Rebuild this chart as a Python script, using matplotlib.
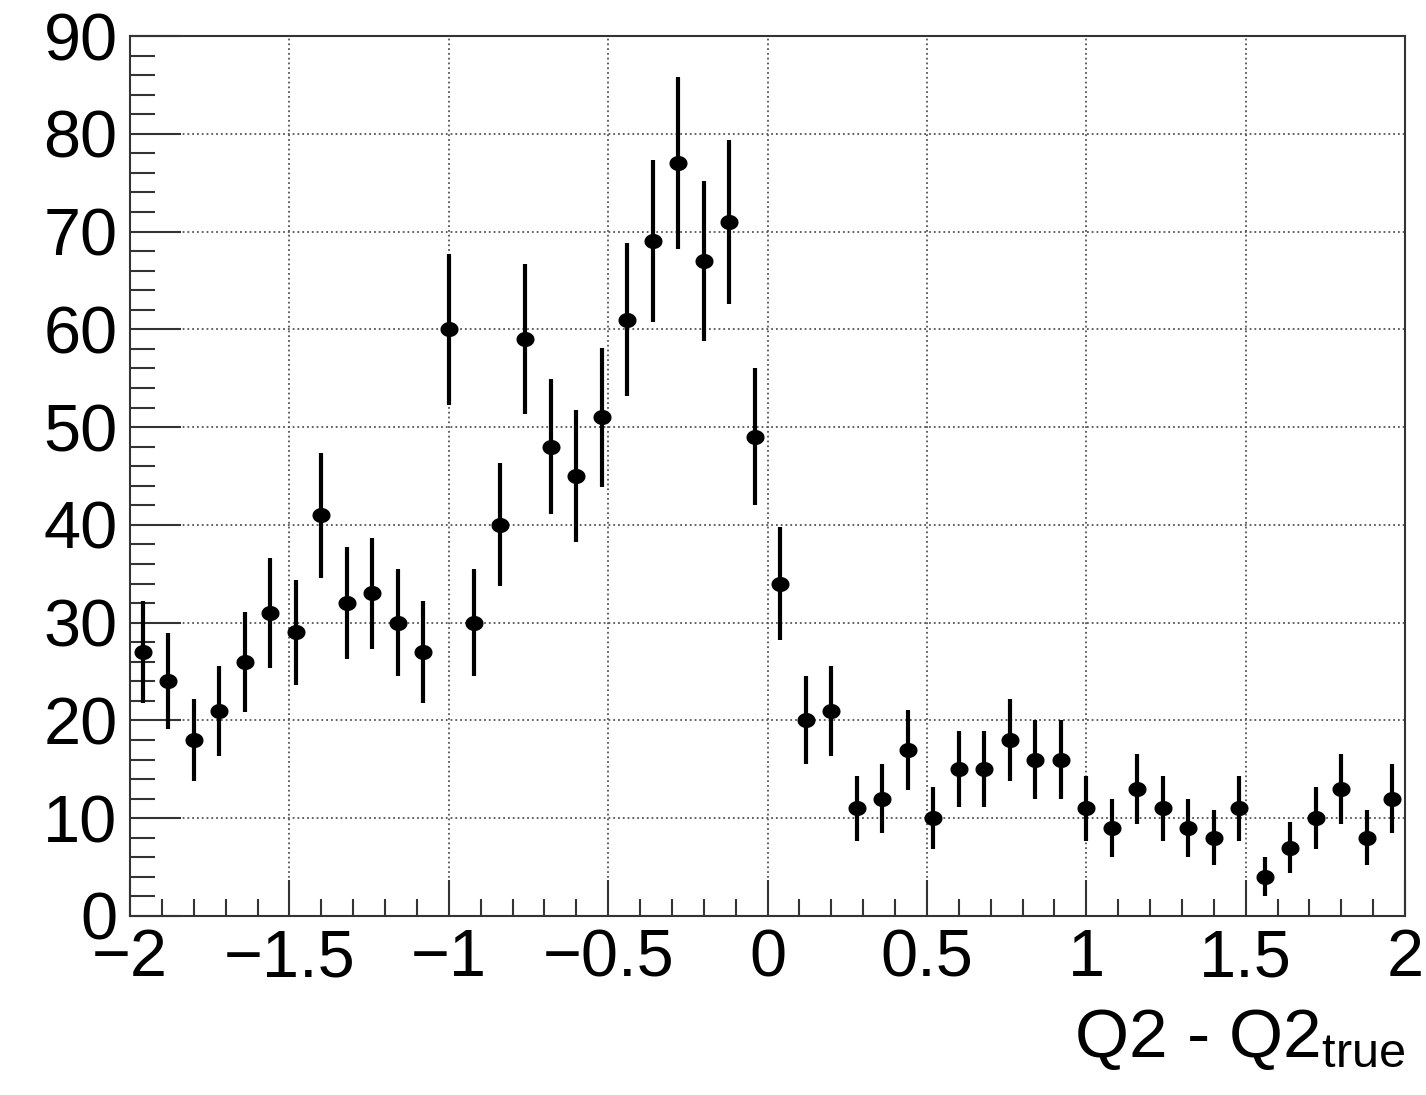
import numpy as np
import matplotlib.pyplot as plt
from matplotlib.path import Path
from matplotlib.ticker import MultipleLocator

plt.rcParams['font.family'] = ['Liberation Sans', 'DejaVu Sans']
plt.rcParams['mathtext.default'] = 'regular'

# histogram: 50 bins from -2 to 2
bin_edges = np.linspace(-2, 2, 51)
counts = [27, 24, 18, 21, 26, 31, 29, 41, 32, 33,
          30, 27, 60, 30, 40, 59, 48, 45, 51, 61,
          69, 77, 67, 71, 49, 34, 20, 21, 11, 12,
          17, 10, 15, 15, 18, 16, 16, 11, 9, 13,
          11, 9, 8, 11, 4, 7, 10, 13, 8, 12]
errors = [5.2, 4.9, 4.2, 4.6, 5.1, 5.6, 5.4, 6.4, 5.7, 5.7,
          5.5, 5.2, 7.7, 5.5, 6.3, 7.7, 6.9, 6.7, 7.1, 7.8,
          8.3, 8.8, 8.2, 8.4, 7.0, 5.8, 4.5, 4.6, 3.3, 3.5,
          4.1, 3.2, 3.9, 3.9, 4.2, 4.0, 4.0, 3.3, 3.0, 3.6,
          3.3, 3.0, 2.8, 3.3, 2.0, 2.6, 3.2, 3.6, 2.8, 3.5]
centers = 0.5 * (bin_edges[:-1] + bin_edges[1:])

# slightly wide marker, like in the stretched original
t = np.linspace(0, 2 * np.pi, 60)
ellipse = Path(np.column_stack([1.22 * np.cos(t), np.sin(t)]), closed=True)

fig = plt.figure(figsize=(14.26, 10.95), dpi=100)
ax = fig.add_axes([0.0912, 0.1635, 0.8941, 0.8036])

ax.errorbar(centers, counts, yerr=errors, fmt='none', ecolor='black',
            elinewidth=3, capsize=0, zorder=3)
ax.plot(centers, counts, linestyle='none', marker=ellipse, markersize=12,
        color='black', zorder=4)

ax.set_xlim(-2, 2)
ax.set_ylim(0, 90)
ax.xaxis.set_major_locator(MultipleLocator(0.5))
ax.xaxis.set_minor_locator(MultipleLocator(0.1))
ax.yaxis.set_major_locator(MultipleLocator(10))
ax.yaxis.set_minor_locator(MultipleLocator(2))
ax.xaxis.set_major_formatter(plt.FuncFormatter(lambda v, p: '%g' % v if v >= 0 else '\u2212%g' % -v))

ax.tick_params(axis='both', which='both', direction='in', top=False, right=False,
               labelsize=48, width=1.5, color='#333333')
ax.tick_params(axis='y', which='major', length=37, pad=9)
ax.tick_params(axis='y', which='minor', length=18)
ax.tick_params(axis='x', which='major', length=26, pad=9)
ax.tick_params(axis='x', which='minor', length=12)

ax.grid(True, which='major', linestyle=':', color='#555555', linewidth=1.3)
for s in ax.spines.values():
    s.set_linewidth(1.5)
    s.set_color('#333333')

ax.set_xlabel('Q2 - Q2$_{true}$', fontsize=50, loc='right', labelpad=12)

fig.savefig('out.png', dpi=100)
